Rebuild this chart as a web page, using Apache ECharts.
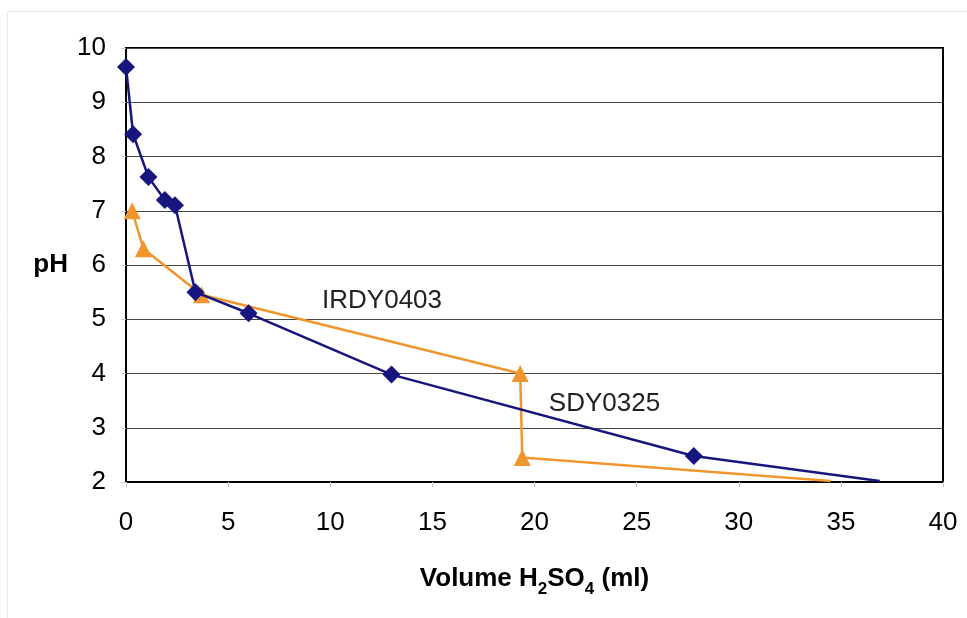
<!DOCTYPE html>
<html>
<head>
<meta charset="utf-8">
<script src="https://cdn.jsdelivr.net/npm/echarts@6/dist/echarts.min.js"></script>
<style>
html,body{margin:0;padding:0;background:#fff;}
#chart{width:967px;height:618px;}
</style>
</head>
<body>
<div id="chart"></div>
<script>
var sdyVolume = [0, 0.35, 1.1, 1.9, 2.4, 3.4, 6.0, 13.0, 27.8, 36.9];
var sdyPH     = [9.65, 8.41, 7.62, 7.2, 7.1, 5.5, 5.11, 3.98, 2.48, 2.02];
var irdyVolume = [0.3, 0.85, 3.7, 19.3, 19.4, 34.5];
var irdyPH     = [7.0, 6.3, 5.45, 4.0, 2.45, 2.02];
var xTicks = [0, 5, 10, 15, 20, 25, 30, 35, 40];
var yTicks = [2, 3, 4, 5, 6, 7, 8, 9, 10];
var seriesNames = ['SDY0325', 'IRDY0403'];
var labelAnchors = [[20.7, 3.42], [9.6, 5.32]];

// last point of each curve is drawn without a marker (as in the original)
function pairs(xs, ys){
  return xs.map(function(x,i){
    var item = {value: [x, ys[i]]};
    if (i === xs.length - 1) item.symbol = 'none';
    return item;
  });
}

var chart = echarts.init(document.getElementById('chart'));
var font = '"Liberation Sans", Arial, sans-serif';
var option = {
  animation: false,
  backgroundColor: '#fff',
  grid: {left: 126, right: 24, top: 48, bottom: 136, show: true, borderColor: '#000', borderWidth: 2, backgroundColor: 'transparent'},
  xAxis: {
    type: 'value', min: xTicks[0], max: xTicks[xTicks.length-1], interval: 5,
    name: '{a|Volume H}{s|2}{a|SO}{s|4}{a| (ml)}', nameLocation: 'middle', nameGap: 84,
    nameTextStyle: {rich: {
      a: {fontFamily: font, fontWeight: 'bold', fontSize: 26, color: '#000', verticalAlign:'bottom'},
      s: {fontFamily: font, fontWeight: 'bold', fontSize: 17, color: '#000', verticalAlign:'bottom', padding:[0,0,-6,0]}
    }},
    axisLine: {show: true, lineStyle: {color: '#000', width: 2}},
    axisTick: {show: true, length: 5, lineStyle: {color: '#ccc'}},
    axisLabel: {fontFamily: font, fontSize: 26, color: '#000', margin: 28},
    splitLine: {show: false}
  },
  yAxis: {
    type: 'value', min: yTicks[0], max: yTicks[yTicks.length-1], interval: 1,
    name: 'pH', nameLocation: 'middle', nameGap: 58, nameRotate: 0,
    nameTextStyle: {fontFamily: font, fontWeight: 'bold', fontSize: 26, color: '#000'},
    axisLine: {show: true, lineStyle: {color: '#000', width: 2}},
    axisTick: {show: true, length: 5, lineStyle: {color: '#ccc'}},
    axisLabel: {fontFamily: font, fontSize: 26, color: '#000', margin: 20},
    splitLine: {show: true, lineStyle: {color: '#444', width: 1.2}}
  },
  series: [
    {
      name: seriesNames[0], type: 'line', data: pairs(sdyVolume, sdyPH),
      symbol: 'diamond', symbolSize: 18,
      lineStyle: {color: '#16167e', width: 2.5},
      itemStyle: {color: '#16167e'}, z: 3
    },
    {
      name: seriesNames[1], type: 'line', data: pairs(irdyVolume, irdyPH),
      symbol: 'triangle', symbolSize: 17,
      lineStyle: {color: '#f0962e', width: 2.5},
      itemStyle: {color: '#f0962e'}, z: 2
    }
  ]
};
chart.setOption(option);

function placeLabels(){
  var els = seriesNames.map(function(n, i){
    var p = chart.convertToPixel({gridIndex: 0}, labelAnchors[i]);
    return {type: 'text', left: p[0], top: p[1] - 14,
      style: {text: n, fontFamily: font, fontSize: 26, fill: '#222'}, z: 10};
  });
  els.push({type:'rect', left: 5, top: 9, shape:{width: 970, height: 620}, style:{fill:'none', stroke:'#e8e8e8', lineWidth:1}, z: 0, silent:true});
  chart.setOption({graphic: els});
}
placeLabels();
</script>
</body>
</html>
